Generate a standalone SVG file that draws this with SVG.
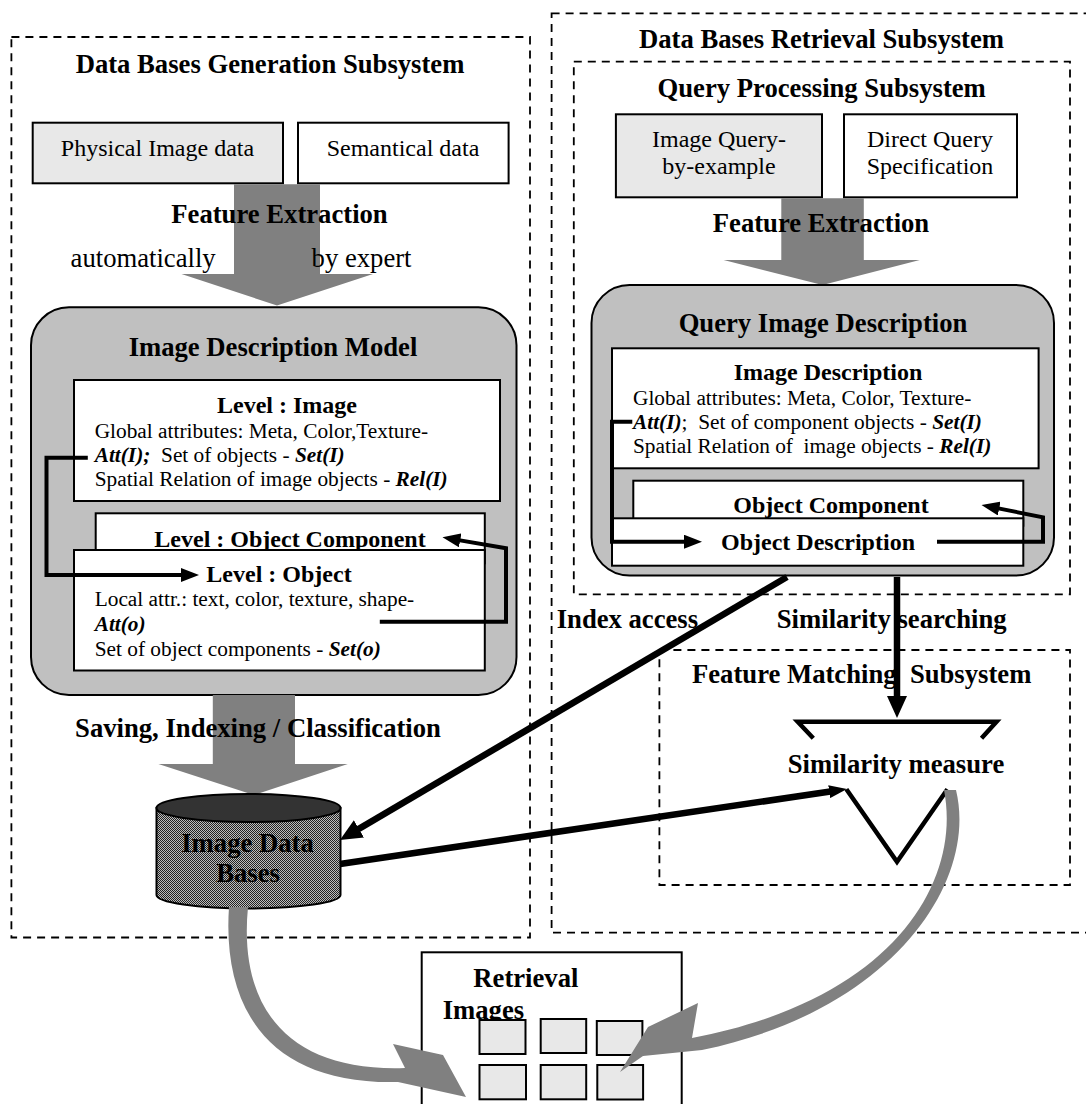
<svg xmlns="http://www.w3.org/2000/svg" width="1086" height="1104" viewBox="0 0 1086 1104">
<style>
.t{font-family:"Liberation Serif","Times New Roman",serif;fill:#000}
.h{font-size:26.67px;font-weight:bold}
.lv{font-size:24px;font-weight:bold}
.b{font-size:21.33px}
.r24{font-size:24px}
.r26{font-size:26.67px}
.bi{font-weight:bold;font-style:italic}
.mid{text-anchor:middle}
.dash{fill:none;stroke:#000;stroke-width:1.8;stroke-dasharray:8 6}
.box{stroke:#000;stroke-width:2}
.lg{fill:#e8e8e8}
.wh{fill:#fff}
.rnd{fill:#c0c0c0;stroke:#000;stroke-width:2}
.garrow{fill:#808080}
.conn{fill:none;stroke:#000;stroke-width:4}
.thick{fill:none;stroke:#000;stroke-width:6.5}
</style>
<defs>
<pattern id="dots" width="2" height="2" patternUnits="userSpaceOnUse">
<rect width="2" height="2" fill="#bdbdbd"/>
<rect width="1" height="1" fill="#222"/>
<rect x="1" y="1" width="1" height="1" fill="#222"/>
</pattern>
<marker id="ah-big" markerUnits="userSpaceOnUse" markerWidth="22" markerHeight="20" refX="10" refY="10" orient="auto" viewBox="0 0 22 20"><path d="M0,0 L22,10 L0,20 Z" fill="#000"/></marker>
<marker id="ah-mid" markerUnits="userSpaceOnUse" markerWidth="18" markerHeight="13" refX="8" refY="6.5" orient="auto" viewBox="0 0 18 13"><path d="M0,0 L18,6.5 L0,13 Z" fill="#000"/></marker>
<marker id="ah-thin" markerUnits="userSpaceOnUse" markerWidth="18" markerHeight="14" refX="6" refY="7" orient="auto" viewBox="0 0 18 14"><path d="M0,0 L18,7 L0,14 Z" fill="#000"/></marker>
</defs>
<rect width="1086" height="1104" fill="#fff"/>

<g id="generation-subsystem">
<rect class="dash" x="11.4" y="37" width="518.6" height="900.5"/>
<text class="t h mid" x="270" y="72.7">Data Bases Generation Subsystem</text>
</g>

<g id="physical-image-data">
<rect class="box lg" x="32.7" y="122.7" width="250.3" height="60.6"/>
<text class="t r24 mid" x="157.5" y="156">Physical Image data</text>
</g>

<g id="semantical-data">
<rect class="box wh" x="298" y="122.7" width="210.6" height="60.6"/>
<text class="t r24 mid" x="403" y="156">Semantical data</text>
</g>

<g id="feature-extraction-gen">
<path class="garrow" d="M234 184.3 H320 V274 H373 L277 305.5 L181.5 274 H234 Z"/>
<text class="t h mid" x="279.5" y="222.7">Feature Extraction</text>
<text class="t r26" x="70.6" y="266.7">automatically</text>
<text class="t r26" x="311.6" y="266.7">by expert</text>
</g>

<g id="image-description-model">
<rect class="rnd" x="31" y="307.3" width="485.5" height="387.7" rx="38" ry="38"/>
<text class="t h mid" x="273" y="356">Image Description Model</text>
<rect class="box wh" x="74" y="380" width="426" height="121"/>
<text class="t lv mid" x="287" y="413.3">Level : Image</text>
<text class="t b" x="94.7" y="437.7">Global attributes: Meta, Color,Texture-</text>
<text class="t b" x="94.7" y="461.7" xml:space="preserve"><tspan class="bi">Att(I);</tspan>  Set of objects - <tspan class="bi">Set(I)</tspan></text>
<text class="t b" x="94.7" y="485.5">Spatial Relation of image objects - <tspan class="bi">Rel(I)</tspan></text>
<rect class="box wh" x="95.7" y="513.3" width="389.1" height="50"/>
<text class="t lv mid" x="290" y="546.7">Level : Object Component</text>
<rect class="box wh" x="74" y="550" width="410.8" height="120.5"/>
<text class="t lv mid" x="279" y="581.7">Level : Object</text>
<text class="t b" x="94.7" y="605.5">Local attr.: text, color, texture, shape-</text>
<text class="t b bi" x="94.7" y="630.5">Att(o)</text>
<text class="t b" x="94.7" y="655.5">Set of object components - <tspan class="bi">Set(o)</tspan></text>
</g>

<g id="saving-indexing">
<path class="garrow" d="M212.8 695 H295 V764 H347.8 L253.8 795 L158.4 764 H212.8 Z"/>
<text class="t h mid" x="258" y="736.7">Saving, Indexing / Classification</text>
</g>

<g id="image-data-bases">
<path d="M156.5 808 V895 A92 13.5 0 0 0 340.5 895 V808 Z" fill="url(#dots)" stroke="#000" stroke-width="2"/>
<ellipse cx="248.5" cy="808" rx="92" ry="14" fill="#333" stroke="#000" stroke-width="2"/>
<text class="t h mid" x="247.5" y="851.7">Image Data</text>
<text class="t h mid" x="248" y="881.7">Bases</text>
</g>

<g id="retrieval-subsystem">
<rect class="dash" x="551.6" y="13.3" width="560" height="919.4"/>
<text class="t h mid" x="821.5" y="48.3">Data Bases Retrieval Subsystem</text>
</g>

<g id="query-processing-subsystem">
<rect class="dash" x="573.8" y="61.7" width="496.2" height="532.6"/>
<text class="t h mid" x="821.7" y="96.7">Query Processing Subsystem</text>
</g>

<g id="image-query-by-example">
<rect class="box lg" x="615.9" y="114.3" width="206.1" height="83"/>
<text class="t r24 mid" x="719" y="146.7">Image Query-</text>
<text class="t r24 mid" x="719" y="174">by-example</text>
</g>

<g id="direct-query-specification">
<rect class="box wh" x="844" y="114.3" width="173" height="83"/>
<text class="t r24 mid" x="930" y="146.7">Direct Query</text>
<text class="t r24 mid" x="930" y="174">Specification</text>
</g>

<g id="feature-extraction-query">
<path class="garrow" d="M781.3 198.3 H863.8 V260 H919.8 L822.5 285 L723.6 260 H781.3 Z"/>
<text class="t h mid" x="821" y="231.7">Feature Extraction</text>
</g>

<g id="query-image-description">
<rect class="rnd" x="591.5" y="285" width="462.5" height="290.5" rx="38" ry="38"/>
<text class="t h mid" x="823" y="331.7">Query Image Description</text>
<rect class="box wh" x="612" y="348.3" width="426.6" height="120"/>
<text class="t lv mid" x="828" y="380">Image Description</text>
<text class="t b" x="633" y="405">Global attributes: Meta, Color, Texture-</text>
<text class="t b" x="633" y="429.3" xml:space="preserve"><tspan class="bi">Att(I)</tspan>;  Set of component objects - <tspan class="bi">Set(I)</tspan></text>
<text class="t b" x="633" y="453.3" xml:space="preserve">Spatial Relation of  image objects - <tspan class="bi">Rel(I)</tspan></text>
<rect class="box wh" x="633.3" y="480.7" width="390" height="45"/>
<text class="t lv mid" x="831" y="513.3">Object Component</text>
<rect class="box wh" x="612" y="518.3" width="411.3" height="47.4"/>
<text class="t lv mid" x="818" y="550">Object Description</text>
</g>

<g id="labels-retrieval">
<text class="t h" x="556.7" y="628.3">Index access</text>
<text class="t h" x="776.8" y="628.3">Similarity searching</text>
</g>

<g id="feature-matching-subsystem">
<rect class="dash" x="659.4" y="650" width="410.6" height="235"/>
<text class="t h" x="692" y="683.3" xml:space="preserve">Feature Matching  Subsystem</text>
</g>

<g id="similarity-measure">
<path d="M813.3 738.3 L797.7 721.7 H996.5 L981.5 738.3" fill="none" stroke="#000" stroke-width="4.5"/>
<text class="t h mid" x="896" y="773.3">Similarity measure</text>
<path d="M846.4 789.3 L897 861.7 L947.4 789.3" fill="none" stroke="#000" stroke-width="4.5"/>
</g>

<g id="retrieval-images">
<rect class="box wh" x="421.7" y="952.3" width="260" height="200"/>
<text class="t h" x="473.3" y="986.7">Retrieval</text>
<text class="t h" x="442.7" y="1019.3">Images</text>
<rect class="box lg" x="479.5" y="1020" width="46" height="34"/>
<rect class="box lg" x="540.7" y="1019" width="45.5" height="34"/>
<rect class="box lg" x="596.8" y="1021" width="45.6" height="34"/>
<rect class="box lg" x="479.5" y="1065" width="46.5" height="34.3"/>
<rect class="box lg" x="540.7" y="1065" width="45.5" height="34.3"/>
<rect class="box lg" x="597.3" y="1065" width="45.8" height="34.5"/>
</g>

<g id="connectors">
<path class="conn" d="M87.8 457.7 H46.5 V575 H187" marker-end="url(#ah-thin)"/>
<path class="conn" d="M379.8 621.7 H506 V548.3 L454.3 539.4" marker-end="url(#ah-thin)"/>
<path class="conn" d="M632.3 421.7 H612 V541.7 H690" marker-end="url(#ah-thin)"/>
<path class="conn" d="M937 541.7 H1043 V517.3 L993.3 507.4" marker-end="url(#ah-thin)"/>
<path class="thick" d="M787 577 L350.3 833.9" marker-end="url(#ah-big)"/>
<path class="thick" d="M897 577 V706" marker-end="url(#ah-big)"/>
<path class="thick" d="M340 864 L837.1 790.5" marker-end="url(#ah-mid)"/>
<path class="garrow" d="M229 907 C222 1010 270 1085 398 1082 L466 1097 L443 1055 L393 1044 L405 1068 C290 1072 238 1010 248 907 Z"/>
<path class="garrow" d="M944 790 L956 790 C978 880 895 1010 702 1050 L643 1056 L620 1072 L648 1027 L698 1003 L692 1038 C893 1000 962 882 944 790 Z"/>
</g>
</svg>
